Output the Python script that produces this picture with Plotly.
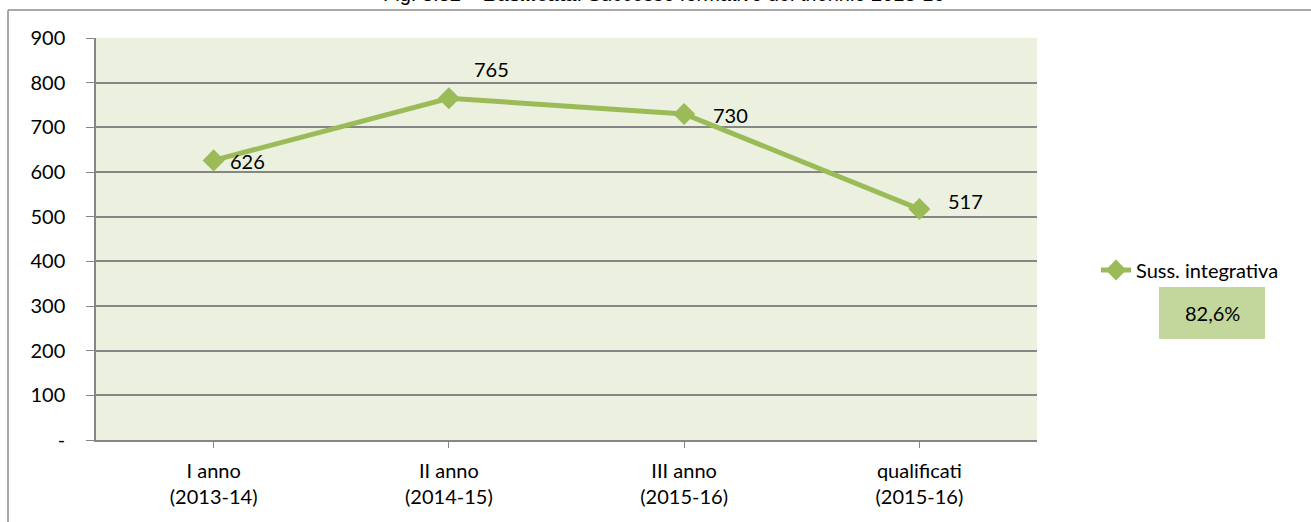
import plotly.graph_objects as go

# Data
categories = ["I anno<br>(2013-14)", "II anno<br>(2014-15)", "III anno<br>(2015-16)", "qualificati<br>(2015-16)"]
values = [626, 765, 730, 517]
series_name = "Suss. integrativa"
success_rate = "82,6%"
y_ticks = [0, 100, 200, 300, 400, 500, 600, 700, 800, 900]
y_tick_labels = ["-", "100", "200", "300", "400", "500", "600", "700", "800", "900"]

# label offsets (px) relative to each point
label_dx = [34, 43, 46, 46]
label_dy = [-1, 29, -1, 8]

FONT = "Lato"
FS = 20
GREEN = "#9BBB59"
GRID = "#868686"

W, H = 1311, 522
L, R, T, B = 96, 1037, 38, 440


def px(x):
    return (x - L) / (R - L)


def py(y):
    return (B - y) / (B - T)


fig = go.Figure()
fig.add_trace(go.Scatter(
    x=list(range(len(categories))), y=values, mode="lines+markers", name=series_name,
    line=dict(color=GREEN, width=5),
    marker=dict(symbol="diamond", size=17, color=GREEN),
))

annotations = []
for i, v in enumerate(values):
    annotations.append(dict(
        x=i, y=v, xref="x", yref="y", text=str(v), showarrow=False,
        xanchor="center", yanchor="middle",
        xshift=label_dx[i], yshift=label_dy[i],
        font=dict(family=FONT, size=FS, color="#000000"),
    ))

# title (runs off the top edge)
annotations.append(dict(
    x=px(663), y=py(7), xref="paper", yref="paper", xanchor="center", yanchor="bottom",
    text="Fig. 3.32 – <b>Basilicata</b>: Successo formativo del triennio 2013-16",
    showarrow=False, font=dict(family="Liberation Sans", size=20, color="#000000"),
))

# success-rate badge text
annotations.append(dict(
    x=px(1212), y=py(313), xref="paper", yref="paper", text=success_rate,
    xanchor="center", yanchor="middle",
    showarrow=False, font=dict(family=FONT, size=FS, color="#000000"),
))

shapes = [
    # outer frame
    dict(type="line", xref="paper", yref="paper", x0=px(8), x1=px(8), y0=py(530), y1=py(10),
         line=dict(color="#8c8c8c", width=1.5)),
    dict(type="line", xref="paper", yref="paper", x0=px(8), x1=px(1320), y0=py(10), y1=py(10),
         line=dict(color="#8c8c8c", width=1.5)),
    # badge box
    dict(type="rect", xref="paper", yref="paper", x0=px(1159), x1=px(1265), y0=py(339), y1=py(287),
         fillcolor="#C3D69B", line=dict(width=0), layer="below"),
]

fig.update_layout(
    width=W, height=H,
    margin=dict(l=L, r=W - R, t=T, b=H - B),
    paper_bgcolor="white", plot_bgcolor="#EBF1DE",
    font=dict(family=FONT, size=FS, color="#000000"),
    showlegend=True,
    legend=dict(x=px(1096), y=py(270), xanchor="left", yanchor="middle",
                font=dict(family=FONT, size=FS), bgcolor="rgba(0,0,0,0)"),
    annotations=annotations, shapes=shapes,
    xaxis=dict(
        range=[-0.5, 3.5], tickvals=list(range(len(categories))), ticktext=categories,
        showgrid=False, showline=True, linecolor=GRID, linewidth=1.5,
        ticks="outside", tickson="boundaries", ticklen=6, tickcolor=GRID,
        ticklabelstandoff=6,
        tickfont=dict(family=FONT, size=FS), zeroline=False,
    ),
    yaxis=dict(
        range=[0, 900], tickvals=y_ticks, ticktext=y_tick_labels,
        showgrid=True, gridcolor=GRID, gridwidth=1.5,
        showline=True, linecolor=GRID, linewidth=1.5,
        ticks="outside", ticklen=8, tickcolor=GRID,
        ticklabelstandoff=17,
        tickfont=dict(family=FONT, size=FS), zeroline=False,
    ),
)

fig.write_html("out.html")
